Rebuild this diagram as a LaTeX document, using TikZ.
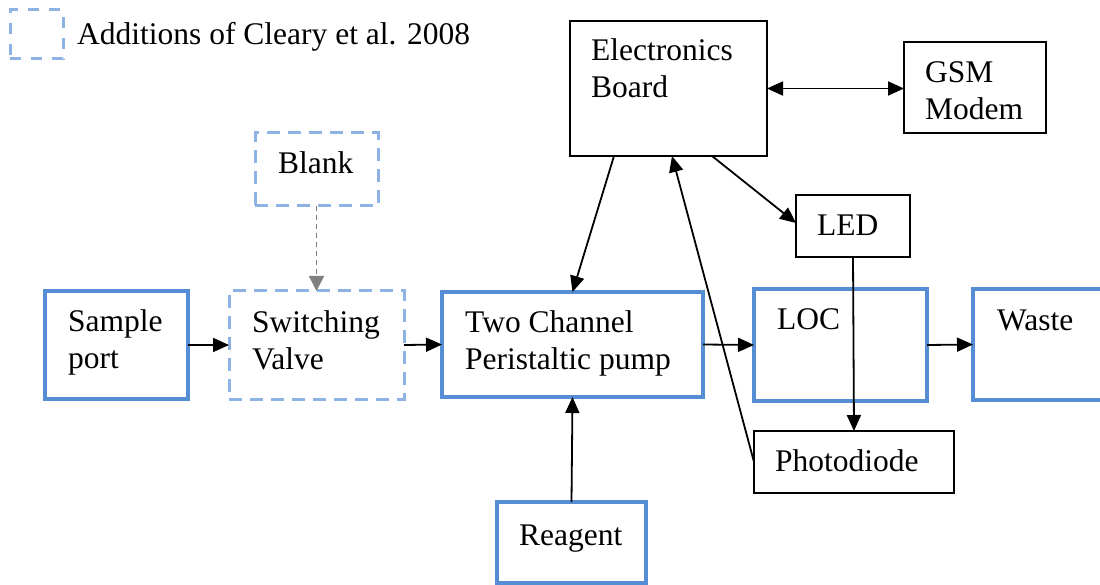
\documentclass[tikz,border=0pt]{standalone}
\usepackage{fontspec}
\setmainfont{Liberation Serif}
\usetikzlibrary{arrows.meta}
\definecolor{boxblue}{HTML}{558ED5}
\definecolor{dashblue}{HTML}{8DB3E2}
\definecolor{arrgray}{HTML}{7F7F7F}
\newcommand\mystrut{\rule{0pt}{25pt}}
\begin{document}
\begin{tikzpicture}[x=1pt,y=-1pt,
 bluebox/.style={draw=boxblue, line width=3.5pt, rectangle, inner sep=0pt, outer sep=0pt},
 dashbox/.style={draw=dashblue, line width=3pt, dash pattern=on 13pt off 8pt, rectangle, inner sep=0pt, outer sep=0pt},
 blackbox/.style={draw=black, line width=2pt, rectangle, inner sep=0pt, outer sep=0pt},
 txt/.style={anchor=north west, inner sep=0pt, align=left, font=\fontsize{31.5}{37.5}\selectfont},
 tip/.style={Triangle[length=16pt,width=14pt]},
 arr/.style={draw=black, line width=1.8pt, -{Triangle[length=16pt,width=14pt]}},
 darr/.style={draw=arrgray, line width=1.5pt, dash pattern=on 5pt off 4pt, -{Triangle[length=15pt,width=15pt]}}
]
\useasboundingbox[fill=white] (0,0) rectangle (1100,585);

% boxes
\node[dashbox, dash pattern=on 11pt off 10pt, minimum width=53pt, minimum height=49pt] (legend) at (36.5,34.5) {};
\node[bluebox, minimum width=143pt, minimum height=108pt] (sample) at (116.5,345) {};
\node[dashbox, minimum width=175pt, minimum height=108pt] (switch) at (316.5,345) {};
\node[dashbox, minimum width=123pt, minimum height=73pt] (blank) at (316.5,169.5) {};
\node[bluebox, minimum width=261pt, minimum height=105pt] (two) at (572.5,344.5) {};
\node[bluebox, minimum width=173pt, minimum height=112pt] (loc) at (840.5,345) {};
\node[bluebox, minimum width=137pt, minimum height=111pt] (waste) at (1041.5,344.5) {};
\node[bluebox, minimum width=149pt, minimum height=81pt] (reagent) at (571.5,542.5) {};
\node[blackbox, minimum width=197pt, minimum height=135pt] (elec) at (668.5,88.5) {};
\node[blackbox, minimum width=142pt, minimum height=91pt] (gsm) at (975,87.5) {};
\node[blackbox, minimum width=114pt, minimum height=62pt] (led) at (853,226) {};
\node[blackbox, minimum width=200pt, minimum height=62pt] (pd) at (854,462) {};

% texts
\node[txt] (tlegend) at (77,19) {\mystrut Additions of Cleary et al. 2008};
\node[txt] (tblank) at (278,148) {\mystrut Blank};
\node[txt] (tswitch) at (252,307) {\mystrut Switching\\Valve};
\node[txt] (tsample) at (68,306) {\mystrut Sample\\port};
\node[txt] (ttwo) at (465,307) {\mystrut Two Channel\\Peristaltic pump};
\node[txt] (tloc) at (777,304) {\mystrut LOC};
\node[txt] (twaste) at (997,305) {\mystrut Waste};
\node[txt] (tled) at (817,210) {\mystrut LED};
\node[txt] (tpd) at (775,446) {\mystrut Photodiode};
\node[txt] (telec) at (591,35) {\mystrut Electronics\\Board};
\node[txt] (tgsm) at (925,57) {\mystrut GSM\\Modem};
\node[txt] (treagent) at (519,520) {\mystrut Reagent};

% connectors
\draw[arr] (sample.east) -- (switch.west);
\draw[arr] (switch.east) -- (two.west);
\draw[arr] (two.east) -- (loc.west);
\draw[arr] (loc.east) -- (waste.west);
\draw[darr] (blank.south) -- (switch.north);
\draw[arr] (reagent.north) -- (two.south);
\draw[arr, {Triangle[length=16pt,width=14pt]}-{Triangle[length=16pt,width=14pt]}] (elec.east) -- (elec.east -| gsm.west);
\draw[arr] ([xshift=-54.5pt]elec.south) -- (two.north);
\draw[arr] (pd.west) -- ([xshift=3.5pt]elec.south);
\draw[arr] ([xshift=43.5pt]elec.south) -- ([yshift=3pt]led.west);
\draw[arr] (led.south) -- (pd.north);
\end{tikzpicture}
\end{document}
